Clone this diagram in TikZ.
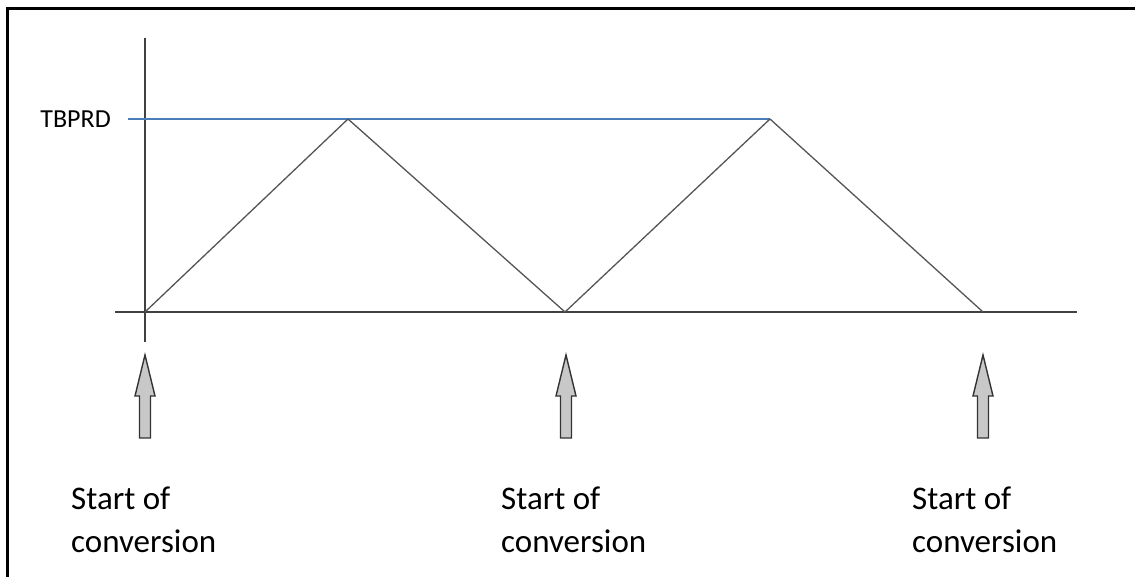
\documentclass[tikz,border=0pt]{standalone}
\usepackage{fontspec}
\setmainfont{Carlito}
\definecolor{tbblue}{HTML}{4A7EBB}
\definecolor{axisgray}{HTML}{404040}
\definecolor{wavegray}{HTML}{555555}
\definecolor{arrowfill}{HTML}{C8C8C8}
\definecolor{arrowline}{HTML}{333333}
\begin{document}
\begin{tikzpicture}[x=1pt,y=-1pt,
  axisline/.style={draw=axisgray,line width=2pt},
  waveline/.style={draw=wavegray,line width=1.3pt,line join=round},
  periodline/.style={draw=tbblue,line width=1.1pt},
  blockarrow/.style={fill=arrowfill,draw=arrowline,line width=1.4pt,line join=miter},
  lbl/.style={font=\fontsize{33}{43}\selectfont,anchor=base west,align=left,inner sep=0pt},
  tblbl/.style={font=\fontsize{26}{30}\selectfont,anchor=east,inner sep=0pt},
  frameline/.style={draw=black,line width=3pt}]
\useasboundingbox (0,0) rectangle (1135,577);
% frame (left and top edges visible)
\coordinate (fbl) at (7,580);
\coordinate (ftl) at (7,9);
\coordinate (ftr) at (1140,9);
\draw[frameline] (fbl) -- (ftl) -- (ftr);
% axes
\coordinate (ytop) at (145,38);
\coordinate (ybot) at (145,342);
\coordinate (xl) at (115,312);
\coordinate (xr) at (1077,312);
\draw[axisline] (ytop) -- (ybot);
\draw[axisline] (xl) -- (xr);
% period line
\node[tblbl] (tb) at (111,119) {TBPRD};
\coordinate (tbs) at (128,119);
% triangle wave
\coordinate (p0) at (145,312);
\coordinate (p1) at (348,119);
\coordinate (p2) at (565,312);
\coordinate (p3) at (770,119);
\coordinate (p4) at (983,312);
\draw[periodline] (tbs) -- (p3);
\draw[waveline] (p0) -- (p1) -- (p2) -- (p3) -- (p4);
% block arrows
\foreach \cx/\nm in {145/a, 566/b, 983/c}{
  \draw[blockarrow] (\cx,355) coordinate (tip\nm) -- (\cx+10,396) -- (\cx+5.5,396) -- (\cx+5.5,438)
     -- (\cx-5.5,438) -- (\cx-5.5,396) -- (\cx-10,396) -- cycle;
}
% labels (anchor at baseline of last line)
\node[lbl] (la) at (71,552) {Start of\\conversion};
\node[lbl] (lb) at (501,552) {Start of\\conversion};
\node[lbl] (lc) at (912,552) {Start of\\conversion};
\end{tikzpicture}
\end{document}
